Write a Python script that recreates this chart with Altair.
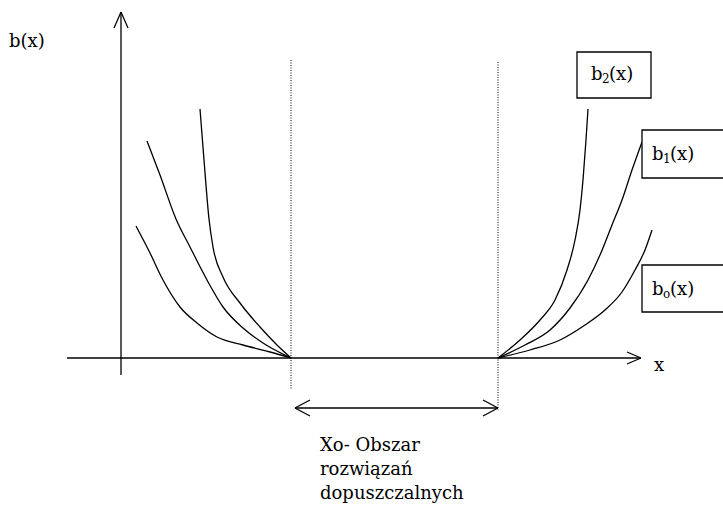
import altair as alt
import pandas as pd

# Diagram coordinates: origin at the axes' intersection, units = pixels of the reference
X_MIN, X_MAX = -121, 602
Y_MIN, Y_MAX = -152, 358

# ---- curves b0, b1, b2 (left branch and right branch) ----
b0_left_x = [15, 29, 42, 59, 76, 96, 122, 149, 170]
b0_left_y = [132, 105, 78, 51, 35, 21, 13, 6, 0]
b1_left_x = [26, 39, 55, 69, 86, 102, 122, 142, 170]
b1_left_y = [217, 183, 139, 111, 78, 51, 30, 15, 0]
b2_left_x = [79, 83, 88, 92, 102, 119, 139, 156, 170]
b2_left_y = [249, 198, 139, 111, 81, 55, 31, 13, 0]

b0_right_x = [377, 409, 439, 464, 484, 501, 514, 524, 531]
b0_right_y = [0, 8, 18, 33, 48, 66, 88, 108, 128]
b1_right_x = [377, 404, 429, 449, 467, 479, 491, 501, 511, 521]
b1_right_y = [0, 13, 28, 50, 78, 103, 133, 158, 188, 216]
b2_right_x = [377, 399, 419, 434, 446, 454, 459, 462, 465, 467]
b2_right_y = [0, 18, 38, 58, 88, 118, 148, 178, 218, 249]

# ---- structural lines: axes, arrowheads, interval arrow ----
seg_x1 = [0, -54, -7, 7, 506, 506, 174, 174, 174, 377, 377]
seg_y1 = [-17, 0, 330, 330, 6, -6, -50, -50, -50, -50, -50]
seg_x2 = [0, 520, 0, 0, 520, 520, 377, 189, 189, 362, 362]
seg_y2 = [346, 0, 346, 346, 0, 0, -50, -42, -58, -42, -58]

# dotted limits of the feasible region
dot_x = [170, 377]
dot_top = [298, 296]
dot_bot = [-32, -52]

# label boxes
box_x1 = [456, 521, 521]
box_x2 = [530, 612, 612]
box_y1 = [306, 228, 93]
box_y2 = [260, 180, 46]

# box labels: base letter, subscript, argument
lab_x = [470, 531, 531]
lab_y = [283, 203, 68]
lab_sub = ["2", "1", "o"]

# free texts
txt = ["b(x)", "x", "Xo- Obszar", "rozwiązań", "dopuszczalnych"]
txt_x = [-112, 533, 199, 199, 199]
txt_y = [316, -8, -88, -112, -136]

FONT = "DejaVu Serif"

rows = []
for name, xs, ys in [("b0L", b0_left_x, b0_left_y), ("b1L", b1_left_x, b1_left_y),
                     ("b2L", b2_left_x, b2_left_y), ("b0R", b0_right_x, b0_right_y),
                     ("b1R", b1_right_x, b1_right_y), ("b2R", b2_right_x, b2_right_y)]:
    for a, b in zip(xs, ys):
        rows.append({"X": a, "Y": b, "curve": name})
curves = pd.DataFrame(rows)

segs = pd.DataFrame({"X": seg_x1, "Y": seg_y1, "X2": seg_x2, "Y2": seg_y2})
dots = pd.DataFrame({"X": dot_x, "Y": dot_top, "Y2": dot_bot})
boxes = pd.DataFrame({"X": box_x1, "X2": box_x2, "Y": box_y1, "Y2": box_y2})
labs = pd.DataFrame({"X": lab_x, "Y": lab_y, "sub": lab_sub,
                     "b": ["b"] * 3, "arg": ["(x)"] * 3})
texts = pd.DataFrame({"X": txt_x, "Y": txt_y, "t": txt})

xs = alt.Scale(domain=[X_MIN, X_MAX], nice=False, zero=False)
ys = alt.Scale(domain=[Y_MIN, Y_MAX], nice=False, zero=False)
X = alt.X("X:Q", scale=xs, axis=None)
Y = alt.Y("Y:Q", scale=ys, axis=None)

curve_layer = alt.Chart(curves).mark_line(
    color="black", strokeWidth=1.3, interpolate="monotone"
).encode(x=X, y=Y, detail="curve:N", order="X:Q")

seg_layer = alt.Chart(segs).mark_rule(color="black", strokeWidth=1.3).encode(
    x=X, y=Y, x2="X2:Q", y2="Y2:Q")

dot_layer = alt.Chart(dots).mark_rule(
    color="black", strokeWidth=1, strokeDash=[1, 1.5]
).encode(x=X, y=Y, y2="Y2:Q")

box_layer = alt.Chart(boxes).mark_rect(
    fill="white", stroke="black", strokeWidth=1.3
).encode(x=X, x2="X2:Q", y=Y, y2="Y2:Q")

base_txt = alt.Chart(labs).mark_text(
    font=FONT, fontSize=18, align="left", baseline="middle", color="black"
).encode(x=X, y=Y, text="b:N")
sub_txt = alt.Chart(labs).mark_text(
    font=FONT, fontSize=12, align="left", baseline="middle", color="black", dx=11, dy=4
).encode(x=X, y=Y, text="sub:N")
arg_txt = alt.Chart(labs).mark_text(
    font=FONT, fontSize=18, align="left", baseline="middle", color="black", dx=18
).encode(x=X, y=Y, text="arg:N")

free_txt = alt.Chart(texts).mark_text(
    font=FONT, fontSize=18, align="left", baseline="middle", color="black"
).encode(x=X, y=Y, text="t:N")

chart = alt.layer(
    dot_layer, seg_layer, curve_layer, box_layer, base_txt, sub_txt, arg_txt, free_txt
).properties(
    width=723, height=510, padding=0, autosize=alt.AutoSizeParams(type="none"),
    background="white"
).configure_view(stroke=None)

chart.save("out.html", embed_options={"renderer": "svg", "actions": False})
